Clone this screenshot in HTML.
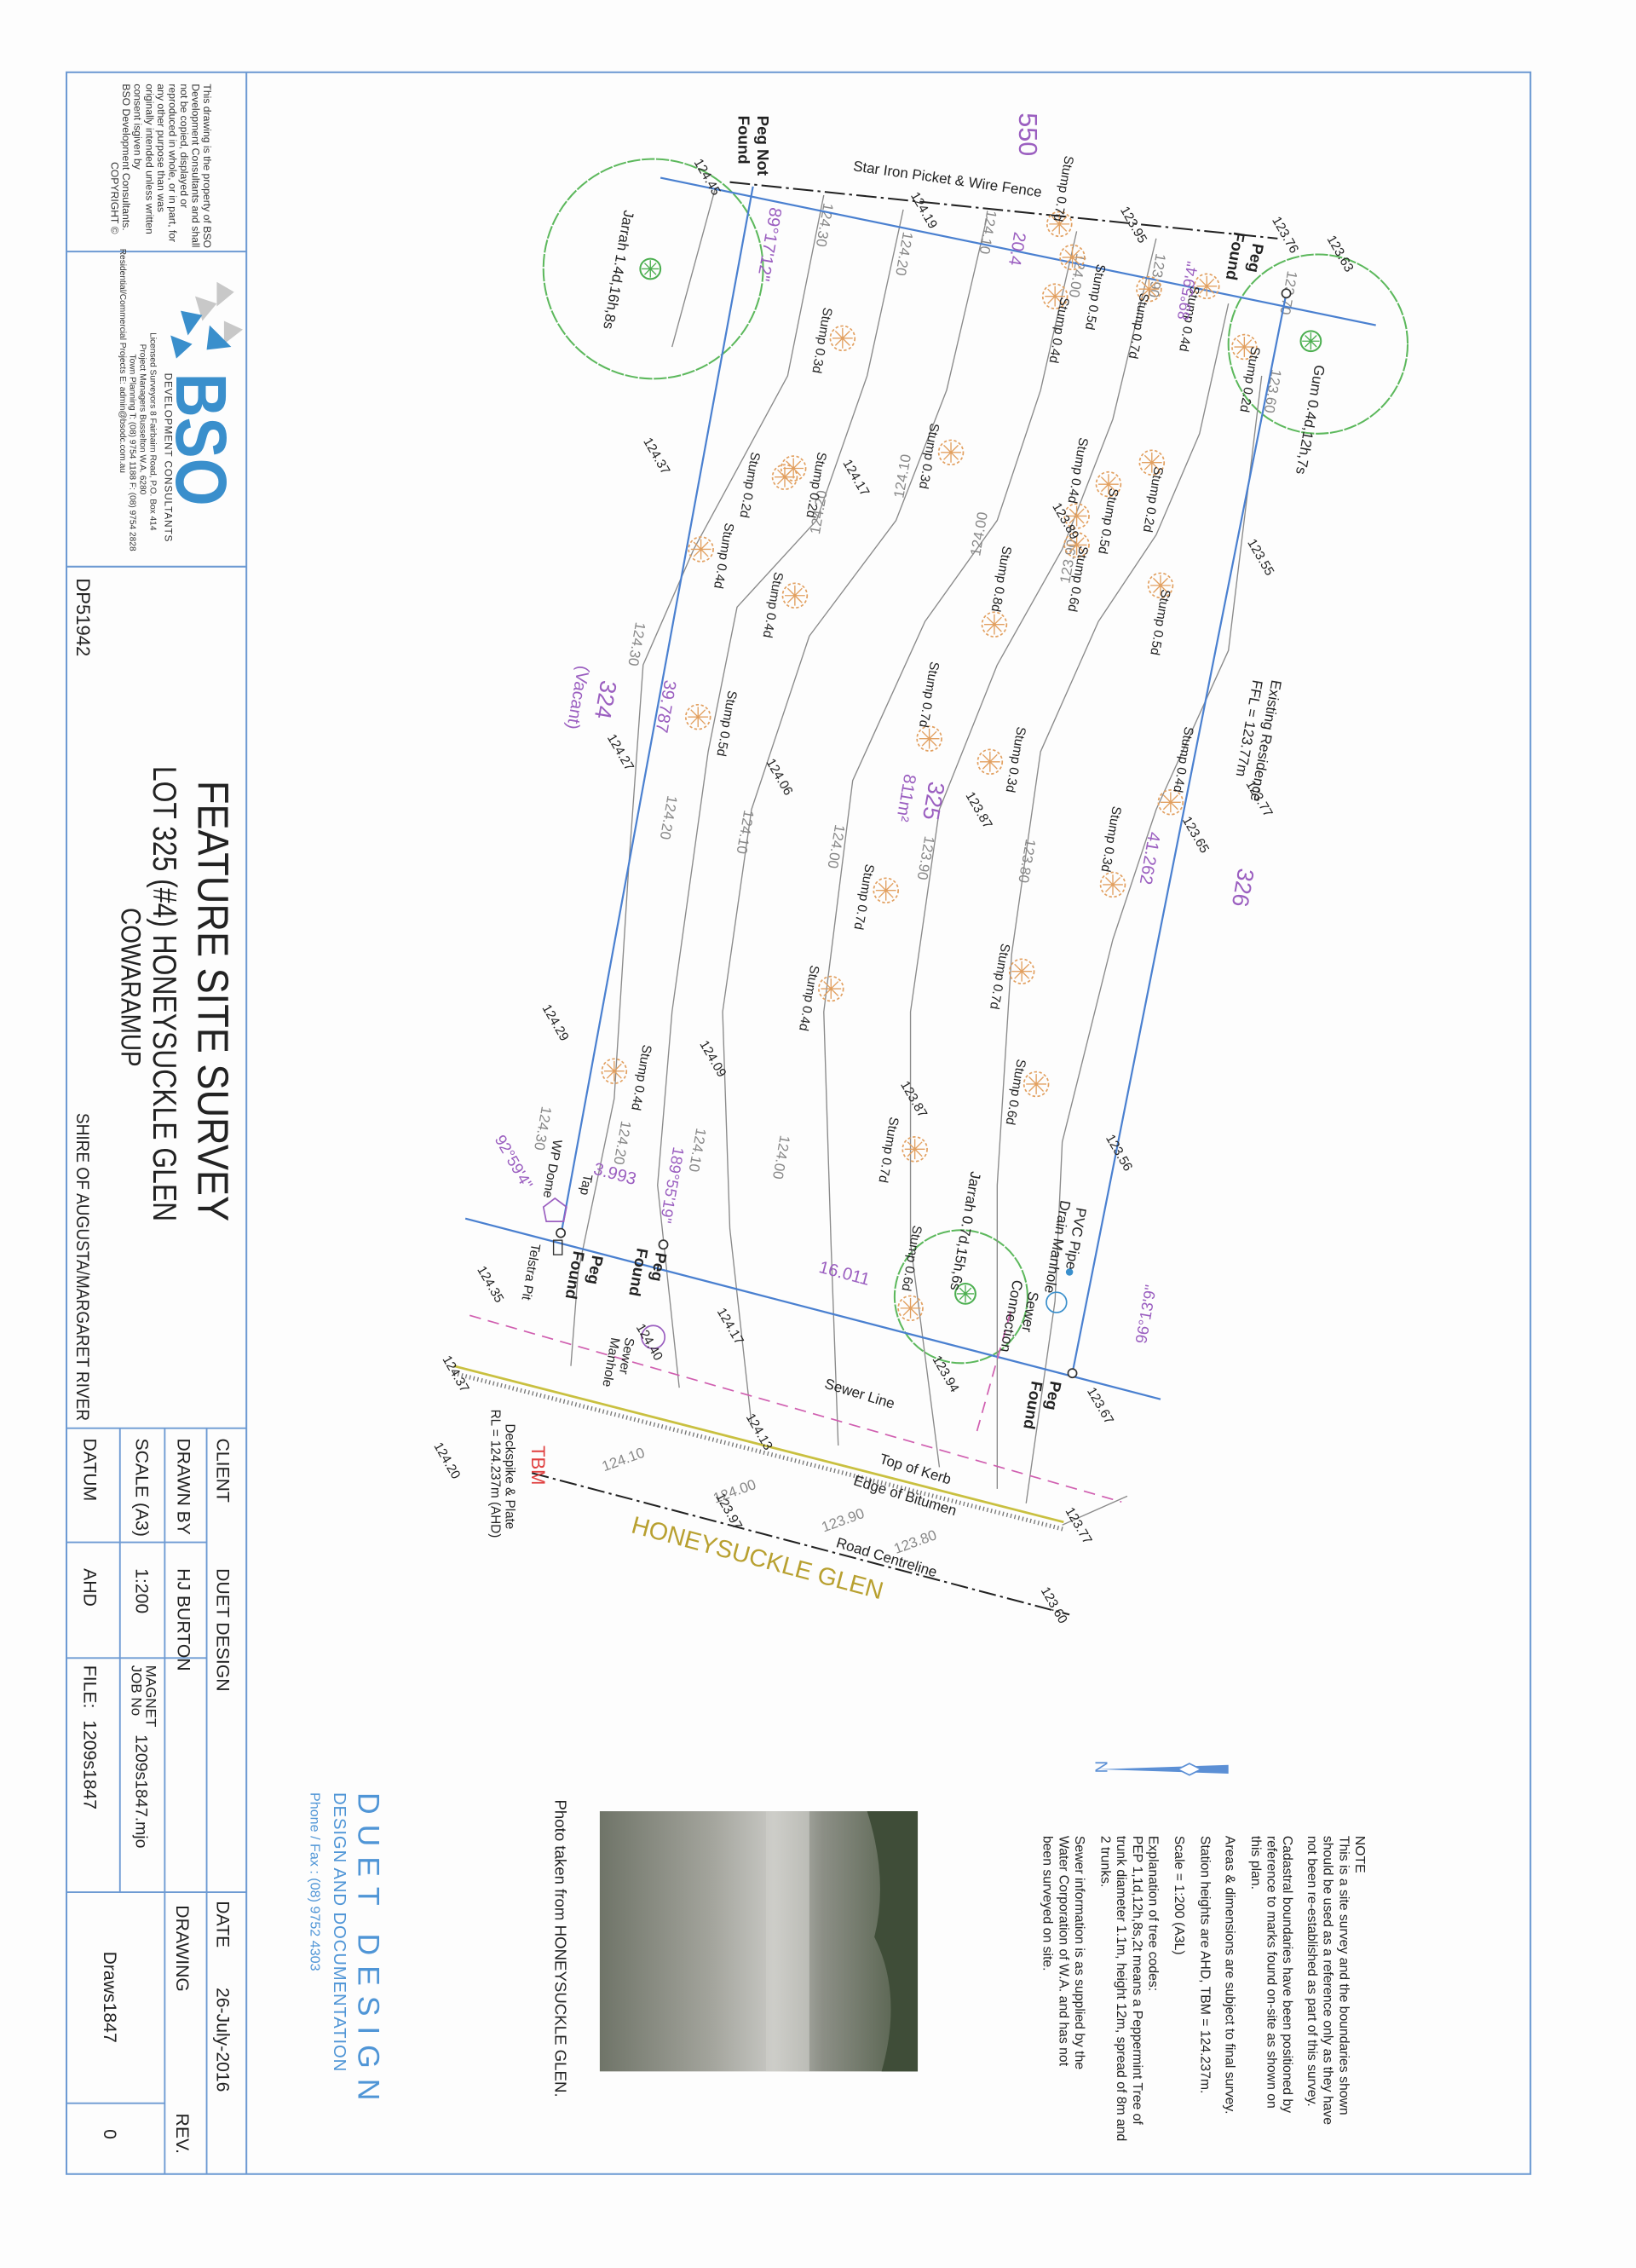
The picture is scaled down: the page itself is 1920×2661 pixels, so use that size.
<!DOCTYPE html>
<html><head><meta charset="utf-8"><style>
html,body{margin:0;padding:0;background:#fdfdfd;}
svg{display:block;}
text{font-family:"Liberation Sans",Arial,sans-serif;}
</style></head><body>
<svg width="1920" height="2661" viewBox="0 0 1132 1569" preserveAspectRatio="none" xmlns="http://www.w3.org/2000/svg">
<defs>
<g id="st"><circle r="8.5" fill="none" stroke="#e2a060" stroke-width="1" stroke-dasharray="2 1.5"/><path d="M0-7V7M-7 0H7M-5-5L5 5M-5 5L5-5" stroke="#e2a060" stroke-width="0.8"/></g>
<g id="tr"><circle r="7" fill="none" stroke="#4caf50" stroke-width="1.2"/><path d="M0-6V6M-6 0H6M-4-4L4 4M-4 4L4-4" stroke="#4caf50" stroke-width="0.8"/></g>
<linearGradient id="ph" x1="0" y1="0" x2="1" y2="0"><stop offset="0" stop-color="#6f7468"/><stop offset="0.35" stop-color="#a3a49c"/><stop offset="0.55" stop-color="#c8c8c4"/><stop offset="0.7" stop-color="#8c8f86"/><stop offset="1" stop-color="#4d5a44"/></linearGradient>
</defs>

<rect x="46" y="50" width="1013" height="1454" fill="none" stroke="#6d9ad3" stroke-width="1.2"/>
<line x1="170.5" y1="50" x2="170.5" y2="1504" stroke="#6d9ad3" stroke-width="1.2"/>
<line x1="46" y1="174" x2="170.5" y2="174" stroke="#6d9ad3" stroke-width="1.2"/>
<line x1="46" y1="392" x2="170.5" y2="392" stroke="#6d9ad3" stroke-width="1.2"/>
<g stroke="#6d9ad3" stroke-width="1.1" fill="none">
<line x1="46" y1="988" x2="170.5" y2="988"/>
<line x1="46" y1="1067" x2="143" y2="1067"/>
<line x1="46" y1="1147" x2="143" y2="1147"/>
<line x1="46" y1="1309" x2="170.5" y2="1309"/>
<line x1="46" y1="1455" x2="114" y2="1455"/>
<line x1="83" y1="988" x2="83" y2="1309"/>
<line x1="114" y1="988" x2="114" y2="1504"/>
<line x1="143" y1="988" x2="143" y2="1504"/>
</g>
<g font-size="12.5" fill="#222">
<text transform="translate(150,995) rotate(90)">CLIENT</text>
<text transform="translate(150,1085) rotate(90)">DUET DESIGN</text>
<text transform="translate(123,995) rotate(90)">DRAWN BY</text>
<text transform="translate(123,1085) rotate(90)">HJ BURTON</text>
<text transform="translate(94,995) rotate(90)">SCALE (A3)</text>
<text transform="translate(94,1085) rotate(90)">1:200</text>
<text transform="translate(58,995) rotate(90)">DATUM</text>
<text transform="translate(58,1085) rotate(90)">AHD</text>
<text transform="translate(101,1152) rotate(90)" font-size="10">MAGNET</text>
<text transform="translate(91,1152) rotate(90)" font-size="10">JOB No</text>
<text transform="translate(94,1200) rotate(90)" font-size="11.5">1209s1847.mjo</text>
<text transform="translate(58,1152) rotate(90)">FILE:</text>
<text transform="translate(58,1190) rotate(90)">1209s1847</text>
<text transform="translate(150,1315) rotate(90)">DATE</text>
<text transform="translate(150,1375) rotate(90)">26-July-2016</text>
<text transform="translate(122,1318) rotate(90)">DRAWING</text>
<text transform="translate(72,1350) rotate(90)">Draws1847</text>
<text transform="translate(122,1462) rotate(90)">REV.</text>
<text transform="translate(72,1473) rotate(90)">0</text>
</g>
<g font-size="7.2" fill="#333">
<text transform="translate(141,58) rotate(90)">This drawing is the property of BSO</text>
<text transform="translate(133,58) rotate(90)">Development Consultants and shall</text>
<text transform="translate(125,58) rotate(90)">not be copied, displayed or</text>
<text transform="translate(117,58) rotate(90)">reproduced in whole, or in part, for</text>
<text transform="translate(109,58) rotate(90)">any other purpose than was</text>
<text transform="translate(101,58) rotate(90)">originally intended unless written</text>
<text transform="translate(93,58) rotate(90)">consent isgiven by</text>
<text transform="translate(85,58) rotate(90)">BSO Development Consultants.</text>
<text transform="translate(77,112) rotate(90)">COPYRIGHT ©</text>
</g>
<g>
<path d="M150 195 L162 202 L150 212 Z M135 205 L150 210 L140 222 Z M155 222 L168 228 L155 238 Z" fill="#c8c8c8"/>
<path d="M125 215 L140 218 L130 232 Z M145 225 L160 240 L143 242 Z M118 232 L133 238 L122 248 Z" fill="#3a8fcc"/>
<text transform="translate(122,258) rotate(90)" font-size="50" font-weight="bold" fill="#3a8fcc" textLength="92" lengthAdjust="spacingAndGlyphs">BSO</text>
<text transform="translate(114,258) rotate(90)" font-size="7" fill="#333" letter-spacing="0.5">DEVELOPMENT CONSULTANTS</text>
<g font-size="6" fill="#333">
<text transform="translate(104,230) rotate(90)">Licensed Surveyors   8 Fairbairn Road, P.O. Box 414</text>
<text transform="translate(97,238) rotate(90)">Project Managers   Busselton W.A. 6280</text>
<text transform="translate(90,245) rotate(90)">Town Planning   T: (08) 9754 1188  F: (08) 9754 2828</text>
<text transform="translate(83,172) rotate(90)">Residential/Commercial Projects   E: admin@bsodc.com.au</text>
</g>
</g>
<text transform="translate(53,400) rotate(90)" font-size="13" fill="#222">DP51942</text>
<text transform="translate(137,540) rotate(90)" font-size="30" fill="#222" textLength="305" lengthAdjust="spacingAndGlyphs">FEATURE SITE SURVEY</text>
<text transform="translate(106,530) rotate(90)" font-size="23" fill="#222" textLength="315" lengthAdjust="spacingAndGlyphs">LOT 325 (#4) HONEYSUCKLE GLEN</text>
<text transform="translate(84,628) rotate(90)" font-size="19" fill="#222" textLength="110" lengthAdjust="spacingAndGlyphs">COWARAMUP</text>
<text transform="translate(53,770) rotate(90)" font-size="12.5" fill="#222" textLength="213" lengthAdjust="spacingAndGlyphs">SHIRE OF AUGUSTA/MARGARET RIVER</text>

<g fill="none" stroke="#5cb85c" stroke-width="1.2" stroke-dasharray="9 1">
<circle cx="452" cy="186" r="76"/>
<circle cx="912" cy="238" r="62"/>
<circle cx="665" cy="897" r="46"/>
</g>
<use href="#tr" x="450" y="186"/>
<use href="#tr" x="907" y="236"/>
<use href="#tr" x="668" y="895"/>

<g fill="none" stroke="#8a8a8a" stroke-width="0.8" stroke-linejoin="round">
<polyline points="570,135 545,260 480,380 445,460 435,600 425,760 400,880 395,945"/>
<polyline points="625,145 600,260 565,360 510,420 490,520 465,700 455,820 470,960"/>
<polyline points="683,150 655,270 620,360 560,440 520,560 500,700 505,850 520,985"/>
<polyline points="745,160 720,270 690,360 640,430 590,540 570,700 575,860 580,1000"/>
<polyline points="800,165 770,290 735,380 690,460 650,560 630,700 630,860 650,1015"/>
<polyline points="850,210 830,300 800,370 760,430 720,520 700,660 690,820 690,1030"/>
<polyline points="873,260 850,450 800,560 770,650 735,790 730,900 710,1040"/>
<line x1="495" y1="130" x2="465" y2="240"/>
<line x1="735" y1="1055" x2="780" y2="1035"/>
</g>
<g font-size="10" fill="#888">
<text transform="translate(570,140) rotate(100)">124.30</text>
<text transform="translate(625,160) rotate(100)">124.20</text>
<text transform="translate(683,145) rotate(100)">124.10</text>
<text transform="translate(745,175) rotate(100)">124.00</text>
<text transform="translate(800,175) rotate(100)">123.90</text>
<text transform="translate(891,187) rotate(100)">123.70</text>
<text transform="translate(880,255) rotate(100)">123.60</text>
<text transform="translate(440,430) rotate(100)">124.30</text>
<text transform="translate(462,550) rotate(100)">124.20</text>
<text transform="translate(515,560) rotate(100)">124.10</text>
<text transform="translate(578,570) rotate(100)">124.00</text>
<text transform="translate(640,578) rotate(100)">123.90</text>
<text transform="translate(710,580) rotate(100)">123.80</text>
<text transform="translate(625,345) rotate(-80)">124.10</text>
<text transform="translate(567,370) rotate(-80)">124.20</text>
<text transform="translate(678,385) rotate(-80)">124.00</text>
<text transform="translate(740,404) rotate(-80)">123.90</text>
<text transform="translate(375,765) rotate(100)">124.30</text>
<text transform="translate(430,775) rotate(100)">124.20</text>
<text transform="translate(482,780) rotate(100)">124.10</text>
<text transform="translate(540,785) rotate(100)">124.00</text>
<text transform="translate(418,1018) rotate(-20)">124.10</text>
<text transform="translate(495,1040) rotate(-20)">124.00</text>
<text transform="translate(570,1060) rotate(-20)">123.90</text>
<text transform="translate(620,1075) rotate(-20)">123.80</text>
</g>

<g stroke="#4a80d0" stroke-width="1.3" fill="none">
<line x1="457" y1="123" x2="952" y2="225"/>
<line x1="521" y1="129" x2="388" y2="855"/>
<line x1="890" y1="203" x2="742" y2="950"/>
<line x1="322" y1="843" x2="803" y2="968"/>
</g>
<line x1="505" y1="126" x2="884" y2="165" stroke="#222" stroke-width="1.2" stroke-dasharray="14 3 2 3"/>
<g fill="#fff" stroke="#333" stroke-width="1"><circle cx="890" cy="203" r="3"/><circle cx="459" cy="861" r="3"/><circle cx="388" cy="853" r="3"/><circle cx="742" cy="950" r="3"/></g>

<line x1="325" y1="910" x2="776" y2="1039" stroke="#d05fb0" stroke-width="1" stroke-dasharray="8 5"/>
<line x1="676" y1="990" x2="700" y2="905" stroke="#d05fb0" stroke-width="1" stroke-dasharray="8 5"/>
<line x1="314" y1="945" x2="736" y2="1053" stroke="#c9c040" stroke-width="1.6"/>
<line x1="314" y1="950" x2="736" y2="1058" stroke="#777" stroke-width="3" stroke-dasharray="0.8 2"/>
<line x1="368" y1="1019" x2="740" y2="1117" stroke="#222" stroke-width="1.2" stroke-dasharray="12 3 2 3"/>
<circle cx="452" cy="925" r="8" fill="none" stroke="#9b5fc0"/>
<circle cx="731" cy="901" r="7" fill="none" stroke="#3a8fcc"/>
<circle cx="740" cy="880" r="2.5" fill="#3a8fcc"/>
<path d="M376 835 l8 -6 l8 6 l-2 10 h-12 z" fill="none" stroke="#9b5fc0"/>
<rect x="383" y="858" width="6" height="10" fill="none" stroke="#333" stroke-width="0.8"/>

<use href="#st" x="583" y="234"/><use href="#st" x="543" y="330"/><use href="#st" x="549" y="324"/>
<use href="#st" x="485" y="380"/><use href="#st" x="550" y="412"/><use href="#st" x="658" y="313"/>
<use href="#st" x="688" y="432"/><use href="#st" x="767" y="335"/><use href="#st" x="745" y="357"/>
<use href="#st" x="745" y="377"/><use href="#st" x="797" y="320"/><use href="#st" x="803" y="405"/>
<use href="#st" x="730" y="205"/><use href="#st" x="742" y="178"/><use href="#st" x="733" y="155"/>
<use href="#st" x="795" y="200"/><use href="#st" x="835" y="198"/><use href="#st" x="861" y="240"/>
<use href="#st" x="483" y="496"/><use href="#st" x="643" y="511"/><use href="#st" x="685" y="527"/>
<use href="#st" x="810" y="555"/><use href="#st" x="770" y="612"/><use href="#st" x="613" y="616"/>
<use href="#st" x="707" y="672"/><use href="#st" x="575" y="684"/><use href="#st" x="717" y="750"/>
<use href="#st" x="425" y="741"/><use href="#st" x="633" y="795"/><use href="#st" x="630" y="905"/>
<g font-size="9" fill="#222" text-anchor="middle">
<text transform="translate(566,235) rotate(100)">Stump 0.3d</text>
<text transform="translate(516,335) rotate(100)">Stump 0.2d</text>
<text transform="translate(562,335) rotate(100)">Stump 0.2d</text>
<text transform="translate(498,384) rotate(100)">Stump 0.4d</text>
<text transform="translate(532,418) rotate(100)">Stump 0.4d</text>
<text transform="translate(640,315) rotate(100)">Stump 0.3d</text>
<text transform="translate(690,400) rotate(100)">Stump 0.8d</text>
<text transform="translate(743,325) rotate(100)">Stump 0.4d</text>
<text transform="translate(764,360) rotate(100)">Stump 0.5d</text>
<text transform="translate(743,400) rotate(100)">Stump 0.6d</text>
<text transform="translate(795,345) rotate(100)">Stump 0.2d</text>
<text transform="translate(800,430) rotate(100)">Stump 0.5d</text>
<text transform="translate(730,228) rotate(100)">Stump 0.4d</text>
<text transform="translate(755,205) rotate(100)">Stump 0.5d</text>
<text transform="translate(733,130) rotate(100)">Stump 0.7d</text>
<text transform="translate(785,225) rotate(100)">Stump 0.7d</text>
<text transform="translate(820,220) rotate(100)">Stump 0.4d</text>
<text transform="translate(862,262) rotate(100)">Stump 0.2d</text>
<text transform="translate(500,500) rotate(100)">Stump 0.5d</text>
<text transform="translate(640,480) rotate(100)">Stump 0.7d</text>
<text transform="translate(700,525) rotate(100)">Stump 0.3d</text>
<text transform="translate(816,525) rotate(100)">Stump 0.4d</text>
<text transform="translate(766,580) rotate(100)">Stump 0.3d</text>
<text transform="translate(595,620) rotate(100)">Stump 0.7d</text>
<text transform="translate(689,675) rotate(100)">Stump 0.7d</text>
<text transform="translate(557,690) rotate(100)">Stump 0.4d</text>
<text transform="translate(700,755) rotate(100)">Stump 0.6d</text>
<text transform="translate(441,745) rotate(100)">Stump 0.4d</text>
<text transform="translate(612,795) rotate(100)">Stump 0.7d</text>
<text transform="translate(628,870) rotate(100)">Stump 0.6d</text>
</g>

<g font-size="9" fill="#222">
<text transform="translate(480,112) rotate(60)">124.45</text>
<text transform="translate(630,135) rotate(60)">124.19</text>
<text transform="translate(775,145) rotate(60)">123.95</text>
<text transform="translate(880,152) rotate(60)">123.76</text>
<text transform="translate(918,165) rotate(60)">123.63</text>
<text transform="translate(445,305) rotate(60)">124.37</text>
<text transform="translate(583,320) rotate(60)">124.17</text>
<text transform="translate(728,350) rotate(60)">123.89</text>
<text transform="translate(863,375) rotate(60)">123.55</text>
<text transform="translate(420,510) rotate(60)">124.27</text>
<text transform="translate(530,527) rotate(60)">124.06</text>
<text transform="translate(668,550) rotate(60)">123.87</text>
<text transform="translate(818,567) rotate(60)">123.65</text>
<text transform="translate(862,542) rotate(60)">123.77</text>
<text transform="translate(375,697) rotate(60)">124.29</text>
<text transform="translate(484,722) rotate(60)">124.09</text>
<text transform="translate(623,750) rotate(60)">123.87</text>
<text transform="translate(765,787) rotate(60)">123.56</text>
<text transform="translate(330,878) rotate(60)">124.35</text>
<text transform="translate(496,907) rotate(60)">124.17</text>
<text transform="translate(440,918) rotate(60)">124.40</text>
<text transform="translate(645,940) rotate(60)">123.94</text>
<text transform="translate(752,962) rotate(60)">123.67</text>
<text transform="translate(306,940) rotate(60)">124.37</text>
<text transform="translate(300,1000) rotate(60)">124.20</text>
<text transform="translate(516,980) rotate(60)">124.13</text>
<text transform="translate(495,1035) rotate(60)">123.97</text>
<text transform="translate(737,1045) rotate(60)">123.77</text>
<text transform="translate(720,1100) rotate(60)">123.60</text>
</g>

<g fill="#9b5fc0">
<text transform="translate(705,78) rotate(90)" font-size="18">550</text>
<text transform="translate(533,143) rotate(100)" font-size="12">89°17'12"</text>
<text transform="translate(702,160) rotate(100)" font-size="12">20.4</text>
<text transform="translate(822,222) rotate(-80)" font-size="11">89°59'4"</text>
<text transform="translate(460,470) rotate(100)" font-size="12">39.787</text>
<text transform="translate(416,470) rotate(100)" font-size="16">324</text>
<text transform="translate(400,460) rotate(100)" font-size="12">(Vacant)</text>
<text transform="translate(643,540) rotate(100)" font-size="16">325</text>
<text transform="translate(626,535) rotate(100)" font-size="12">811m²</text>
<text transform="translate(795,575) rotate(100)" font-size="12">41.262</text>
<text transform="translate(857,600) rotate(100)" font-size="16">326</text>
<text transform="translate(342,788) rotate(60)" font-size="11">92°59'4"</text>
<text transform="translate(466,793) rotate(100)" font-size="11">189°55'19"</text>
<text transform="translate(410,812) rotate(15)" font-size="12">3.993</text>
<text transform="translate(566,880) rotate(15)" font-size="12">16.011</text>
<text transform="translate(793,930) rotate(-80)" font-size="11">96°13'9"</text>
</g>

<g fill="#222" font-size="10">
<text transform="translate(590,118) rotate(8)">Star Iron Picket &amp; Wire Fence</text>
<text transform="translate(524,80) rotate(90)" font-weight="bold" font-size="11">Peg Not</text>
<text transform="translate(511,80) rotate(90)" font-weight="bold" font-size="11">Found</text>
<text transform="translate(867,168) rotate(100)" font-weight="bold" font-size="11">Peg</text>
<text transform="translate(854,160) rotate(100)" font-weight="bold" font-size="11">Found</text>
<text transform="translate(432,145) rotate(100)">Jarrah 1.4d,16h,8s</text>
<text transform="translate(910,252) rotate(100)">Gum 0.4d,12h,7s</text>
<text transform="translate(880,470) rotate(100)">Existing Residence</text>
<text transform="translate(867,470) rotate(100)">FFL = 123.77m</text>
<text transform="translate(745,835) rotate(100)">PVC Pipe</text>
<text transform="translate(734,830) rotate(100)">Drain Manhole</text>
<text transform="translate(712,893) rotate(100)">Sewer</text>
<text transform="translate(701,885) rotate(100)">Connection</text>
<text transform="translate(672,810) rotate(100)">Jarrah 0.7d,15h,6s</text>
<text transform="translate(454,866) rotate(100)" font-weight="bold" font-size="11">Peg</text>
<text transform="translate(441,863) rotate(100)" font-weight="bold" font-size="11">Found</text>
<text transform="translate(410,868) rotate(100)" font-weight="bold" font-size="11">Peg</text>
<text transform="translate(397,865) rotate(100)" font-weight="bold" font-size="11">Found</text>
<text transform="translate(368,860) rotate(100)" font-size="9">Telstra Pit</text>
<text transform="translate(383,788) rotate(100)" font-size="9">WP Dome</text>
<text transform="translate(404,812) rotate(100)" font-size="9">Tap</text>
<text transform="translate(433,925) rotate(100)" font-size="9">Sewer</text>
<text transform="translate(423,925) rotate(100)" font-size="9">Manhole</text>
<text transform="translate(727,955) rotate(100)" font-weight="bold" font-size="11">Peg</text>
<text transform="translate(714,955) rotate(100)" font-weight="bold" font-size="11">Found</text>
<text transform="translate(570,960) rotate(17)">Sewer Line</text>
<text transform="translate(608,1012) rotate(17)">Top of Kerb</text>
<text transform="translate(590,1027) rotate(17)">Edge of Bitumen</text>
<text transform="translate(578,1070) rotate(17)">Road Centreline</text>
<text transform="translate(368,1000) rotate(90)" font-size="13" fill="#e04040">TBM</text>
<text transform="translate(350,985) rotate(90)" font-size="9">Deckspike &amp; Plate</text>
<text transform="translate(340,975) rotate(90)" font-size="9">RL = 124.237m (AHD)</text>
</g>
<text transform="translate(436,1060) rotate(15)" font-size="17" fill="#b8a030">HONEYSUCKLE GLEN</text>

<path d="M760 1224 L850 1221 L850 1227 Z" fill="#5b8fd5"/>
<path d="M815 1224 l8 -4 l8 4 l-8 4 z" fill="#fff" stroke="#5b8fd5"/>
<text transform="translate(758,1218) rotate(90)" font-size="12" fill="#5b8fd5">N</text>

<g font-size="9.3" fill="#222">
<text transform="translate(938,1270) rotate(90)">NOTE</text>
<text transform="translate(927,1270) rotate(90)">This is a site survey and the boundaries shown</text>
<text transform="translate(916,1270) rotate(90)">should be used as a reference only as they have</text>
<text transform="translate(905,1270) rotate(90)">not been re-established as part of this survey.</text>
<text transform="translate(888,1270) rotate(90)">Cadastral boundaries have been positioned by</text>
<text transform="translate(877,1270) rotate(90)">reference to marks found on-site as shown on</text>
<text transform="translate(866,1270) rotate(90)">this plan.</text>
<text transform="translate(848,1270) rotate(90)">Areas &amp; dimensions are subject to final survey.</text>
<text transform="translate(831,1270) rotate(90)">Station heights are AHD, TBM = 124.237m.</text>
<text transform="translate(813,1270) rotate(90)">Scale = 1:200 (A3L)</text>
<text transform="translate(795,1270) rotate(90)">Explanation of tree codes:</text>
<text transform="translate(784,1270) rotate(90)">PEP 1,1d,12h,8s,2t means a Peppermint Tree of</text>
<text transform="translate(773,1270) rotate(90)">trunk diameter 1.1m, height 12m, spread of 8m and</text>
<text transform="translate(762,1270) rotate(90)">2 trunks.</text>
<text transform="translate(744,1270) rotate(90)">Sewer information is as supplied by the</text>
<text transform="translate(733,1270) rotate(90)">Water Corporation of W.A. and has not</text>
<text transform="translate(722,1270) rotate(90)">been surveyed on site.</text>
</g>

<rect x="415" y="1253" width="220" height="180" fill="url(#ph)"/>
<rect x="530" y="1253" width="30" height="180" fill="#d0d0cc" opacity="0.6"/>
<path d="M600 1253 Q615 1300 605 1340 Q625 1380 610 1433 L635 1433 L635 1253 Z" fill="#3f4d38"/>
<text transform="translate(384,1245) rotate(90)" font-size="11" fill="#222">Photo taken from HONEYSUCKLE GLEN.</text>

<text transform="translate(248,1240) rotate(90)" font-size="21" fill="#4f95d6" letter-spacing="7">DUET DESIGN</text>
<text transform="translate(231,1240) rotate(90)" font-size="12" fill="#4f95d6" letter-spacing="0.5">DESIGN AND DOCUMENTATION</text>
<text transform="translate(215,1240) rotate(90)" font-size="9.5" fill="#4f95d6">Phone / Fax : (08) 9752 4303</text>
</svg>
</body></html>
